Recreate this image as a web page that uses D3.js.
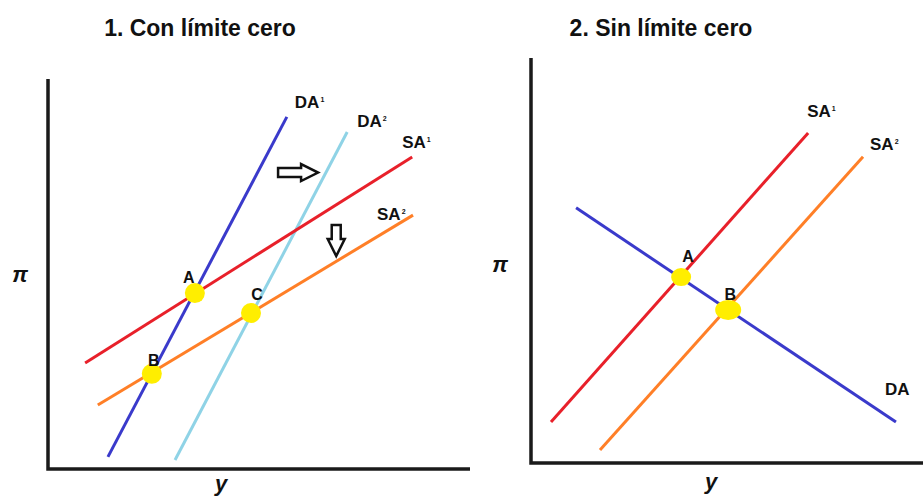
<!DOCTYPE html>
<html>
<head>
<meta charset="utf-8">
<script src="https://cdn.jsdelivr.net/npm/d3@7"></script>
<style>
  html, body { margin: 0; padding: 0; background: #fff; }
  svg { display: block; }
  text { font-family: "Liberation Sans", Arial, sans-serif; font-weight: bold; fill: #111; }
</style>
</head>
<body>
<svg id="chart" width="923" height="500"></svg>
<script>
// ---------- data (abstract units 0..10) ----------
const titles = ["1. Con límite cero", "2. Sin límite cero"];
const axisLabels = ["π", "y"];

// Panel 1: curves [x0, y0, x1, y1]
const p1Names = ["DA", "DA", "SA", "SA"];
const p1Sup = ["1", "2", "1", "2"];
const p1Colors = ["#3a3acb", "#8fd3e6", "#e8202a", "#ff7f27"];
const p1Start = [[1.42, 0.31], [3.01, 0.23], [0.88, 2.72], [1.18, 1.64]];
const p1End = [[5.66, 9.03], [7.09, 8.64], [8.63, 8.00], [8.65, 6.51]];
const p1PointNames = ["A", "B", "C"];
const p1PointX = [3.48, 2.46, 4.81];
const p1PointY = [4.51, 2.44, 4.00];

// Panel 2
const p2Names = ["SA", "SA", "DA"];
const p2Sup = ["1", "2", ""];
const p2Colors = ["#e8202a", "#ff7f27", "#3a3acb"];
const p2Start = [[0.51, 1.01], [1.76, 0.32], [1.15, 6.30]];
const p2End = [[7.07, 8.15], [8.47, 7.56], [9.31, 1.01]];
const p2PointNames = ["A", "B"];
const p2PointX = [3.83, 5.03];
const p2PointY = [4.59, 3.78];

// ---------- drawing ----------
const svg = d3.select("#chart");
const yellow = "#ffee00";

const panels = [
  {
    x: d3.scaleLinear().domain([0, 10]).range([48, 470]),
    y: d3.scaleLinear().domain([0, 10]).range([469, 79]),
    yTop: 79, xEnd: 470,
    names: p1Names, sup: p1Sup, colors: p1Colors, start: p1Start, end: p1End,
    labelOff: [[8, -9], [10, -5], [-10, -9], [-36, 5]],
    pts: p1PointNames, px: p1PointX, py: p1PointY,
    ptR: [[10, 10], [10, 10], [10, 10]],
    ptLabelOff: [[-6, -10], [2, -8], [6, -13]],
    title: titles[0], titleX: 200, piX: 20, piY: 282, yLabX: 221, yLabY: 491
  },
  {
    x: d3.scaleLinear().domain([0, 10]).range([531, 923]),
    y: d3.scaleLinear().domain([0, 10]).range([463, 58]),
    yTop: 58, xEnd: 923,
    names: p2Names, sup: p2Sup, colors: p2Colors, start: p2Start, end: p2End,
    labelOff: [[-1, -16], [7, -7], [-11, -27]],
    pts: p2PointNames, px: p2PointX, py: p2PointY,
    ptR: [[10, 9], [13, 10]],
    ptLabelOff: [[7, -15], [2, -10]],
    title: titles[1], titleX: 661, piX: 500, piY: 272, yLabX: 711, yLabY: 489
  }
];

panels.forEach(p => {
  const g = svg.append("g");
  // title
  g.append("text").attr("x", p.titleX).attr("y", 36)
    .attr("text-anchor", "middle").style("font-size", "23px").text(p.title);
  // axes
  const x0 = p.x(0), y0 = p.y(0);
  g.append("path")
    .attr("d", `M${x0},${p.yTop}V${y0}H${p.xEnd}`)
    .attr("fill", "none").attr("stroke", "#1a1a1a").attr("stroke-width", 3.5);
  // axis labels
  g.append("text").attr("x", p.piX).attr("y", p.piY).attr("text-anchor", "middle")
    .style("font-size", "22px").style("font-style", "italic").text(axisLabels[0]);
  g.append("text").attr("x", p.yLabX).attr("y", p.yLabY).attr("text-anchor", "middle")
    .style("font-size", "22px").style("font-style", "italic").text(axisLabels[1]);
  // curves
  const line = d3.line().x(d => p.x(d[0])).y(d => p.y(d[1]));
  p.names.forEach((n, i) => {
    g.append("path").attr("d", line([p.start[i], p.end[i]]))
      .attr("stroke", p.colors[i]).attr("stroke-width", 3).attr("fill", "none");
    const t = g.append("text")
      .attr("x", p.x(p.end[i][0]) + p.labelOff[i][0])
      .attr("y", p.y(p.end[i][1]) + p.labelOff[i][1])
      .style("font-size", "17px").text(n);
    if (p.sup[i]) t.append("tspan").attr("dy", -6).attr("dx", 1).style("font-size", "7px").text(p.sup[i]);
  });
  // points
  p.pts.forEach((n, i) => {
    const cx = p.x(p.px[i]), cy = p.y(p.py[i]);
    g.append("ellipse").attr("cx", cx).attr("cy", cy)
      .attr("rx", p.ptR[i][0]).attr("ry", p.ptR[i][1]).attr("fill", yellow);
    g.append("text").attr("x", cx + p.ptLabelOff[i][0]).attr("y", cy + p.ptLabelOff[i][1])
      .attr("text-anchor", "middle").style("font-size", "16px").text(n);
  });
});

// shift arrows (panel 1)
const P = panels[0];
function hollowArrow(tipX, tipY, dir, len) {
  const pts = [[-len, -4.5], [-17, -4.5], [-17, -8.5], [0, 0], [-17, 8.5], [-17, 4.5], [-len, 4.5]];
  const rot = dir === "down" ? (p => [-p[1], p[0]]) : (p => p);
  const d = "M" + pts.map(rot).map(q => (tipX + q[0]) + "," + (tipY + q[1])).join("L") + "Z";
  svg.append("path").attr("d", d).attr("fill", "#fff").attr("stroke", "#111")
    .attr("stroke-width", 2.5).attr("stroke-linejoin", "miter");
}
hollowArrow(P.x(6.4), P.y(7.6), "right", 40);
hollowArrow(P.x(6.83), P.y(5.46), "down", 31);
</script>
</body>
</html>
